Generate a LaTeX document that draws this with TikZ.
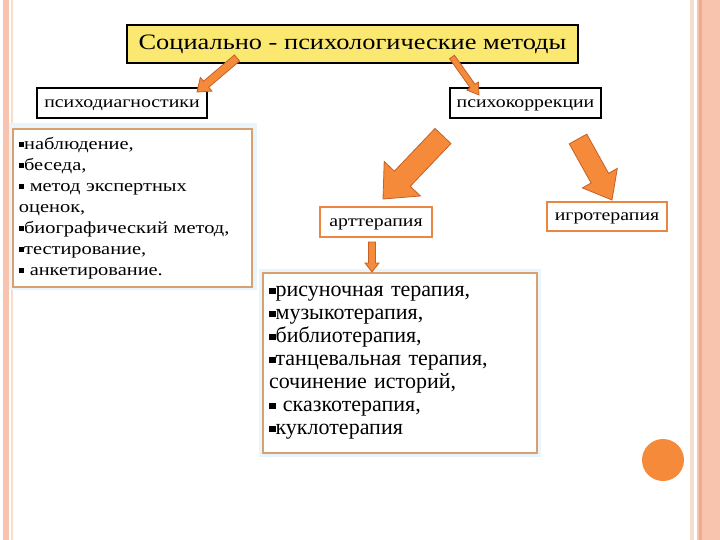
\documentclass[tikz,border=0pt]{standalone}
\usepackage{fontspec}
\setmainfont[FakeStretch=1.2]{Liberation Serif}
\newfontfamily\timesfont{Liberation Serif}
\usetikzlibrary{calc}

\definecolor{headyellow}{RGB}{250,232,112}
\definecolor{arrowfill}{RGB}{245,138,58}
\definecolor{arrowline}{RGB}{196,96,40}
\definecolor{boxorange}{RGB}{232,134,66}
\definecolor{boxtan}{RGB}{214,160,112}
\definecolor{stripe}{RGB}{249,196,174}
\definecolor{stripeline}{RGB}{240,170,145}
\definecolor{stripelight}{RGB}{245,222,206}
\definecolor{glow}{RGB}{234,245,251}

\tikzstyle{headbox} = [draw=black, line width=2.5pt, fill=headyellow, minimum width=451pt, minimum height=38pt, font=\fontsize{22}{26}\selectfont]
\tikzstyle{blackbox} = [draw=black, line width=2pt, fill=white, minimum height=30pt, text height=9pt, text depth=-3pt, font=\fontsize{16.5}{18}\selectfont]
\tikzstyle{orangebox} = [draw=boxorange, line width=1.5pt, fill=white, minimum height=30pt, text height=9pt, text depth=-3pt, font=\fontsize{16.5}{18}\selectfont]
\tikzstyle{listbox} = [draw=boxtan, line width=2pt, fill=white, align=left, inner xsep=6pt]
\tikzstyle{fat} = [fill=arrowfill, draw=arrowline, line width=0.8pt, line join=miter]

\newcommand{\bul}{\rule[0.25ex]{0.3em}{0.3em}}
% fat arrow: from, to, half shaft, half head, head length
\newcommand{\fatarrow}[5]{%
  \coordinate (fa-b) at ($(#2)!#5!(#1)$);
  \draw[fat] ($(#1)!#3!90:(#2)$) -- ($(fa-b)!#3!90:(#2)$) -- ($(fa-b)!#4!90:(#2)$) -- (#2)
    -- ($(fa-b)!#4!-90:(#2)$) -- ($(fa-b)!#3!-90:(#2)$) -- ($(#1)!#3!-90:(#2)$) -- cycle;}

\begin{document}
\begin{tikzpicture}[x=1pt, y=-1pt]
\useasboundingbox (0,0) rectangle (720,540);
%slide edges
\fill[stripe] (3,0) rectangle (9,540);
\fill[stripelight] (11,0) rectangle (13,540);
\fill[stripelight] (690,0) rectangle (694,540);
\fill[stripe] (697,0) rectangle (720,540);
\fill[stripeline] (699,0) rectangle (702,540);
\fill[arrowfill] (663,460) circle (21);
%begin top
\node[headbox] (title) at (352.5,44) {Социально - психологические методы};
\node[blackbox, minimum width=170pt] (diag) at (122,103) {психодиагностики};
\node[blackbox, minimum width=151pt] (corr) at (525.5,103) {психокоррекции};
%end top
%begin diagnostics list
\fill[glow] (9,123) rectangle (257,290);
\node[listbox, text width=227pt, minimum height=157pt, font=\fontsize{17}{21}\selectfont] (diaglist) at (132.5,208) {%
\bul наблюдение,\\
\bul беседа,\\
\bul\ метод экспертных\\
оценок,\\
\bul биографический метод,\\
\bul тестирование,\\
\bul\ анкетирование.};
%end diagnostics list
%begin correction
\node[orangebox, minimum width=112pt] (art) at (376,222) {арттерапия};
\node[orangebox, minimum width=120pt, minimum height=29pt] (game) at (607,216.5) {игротерапия};
\fill[glow] (259,269) rectangle (541,457);
\node[listbox, text width=262pt, minimum height=180pt, font=\timesfont\fontsize{22}{23}\selectfont] (artlist) at (400,363) {%
\bul рисуночная терапия,\\
\bul музыкотерапия,\\
\bul библиотерапия,\\
\bul танцевальная терапия,\\
сочинение историй,\\
\bul\ сказкотерапия,\\
\bul куклотерапия};
%end correction
%begin arrows
\coordinate (a1s) at (237,58);
\coordinate (a1e) at (197,92);
\coordinate (a2s) at (452,57);
\coordinate (a2e) at (479,95);
\coordinate (a3s) at (443,136);
\coordinate (a3e) at (383,199);
\coordinate (a4s) at (578,139);
\coordinate (a4e) at (612,200);
\coordinate (a5s) at (372,242);
\coordinate (a5e) at (372,272);
\fatarrow{a1s}{a1e}{4pt}{9pt}{12pt}
\fatarrow{a2s}{a2e}{3pt}{7pt}{11pt}
\fatarrow{a3s}{a3e}{11pt}{25pt}{28pt}
\fatarrow{a4s}{a4e}{10pt}{20pt}{25pt}
\fatarrow{a5s}{a5e}{3.5pt}{7pt}{9pt}
%end arrows
\end{tikzpicture}
\end{document}
